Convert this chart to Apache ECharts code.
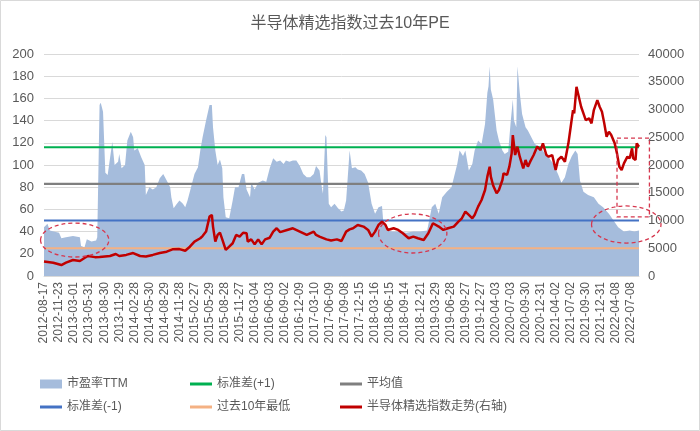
<!DOCTYPE html>
<html>
<head>
<meta charset="utf-8">
<script src="https://cdn.jsdelivr.net/npm/echarts@6/dist/echarts.min.js"></script>
<style>
html,body{margin:0;padding:0;background:#fff;}
#chart{width:700px;height:431px;}
</style>
</head>
<body>
<div id="chart"></div>
<script>
// ---- Data (weekly; x = week index from 2012-08-17) ----
const titleText = '半导体精选指数过去10年PE';
const labelDates = ['2012-08-17','2012-11-23','2013-03-01','2013-05-31','2013-08-30','2013-11-29','2014-02-28','2014-05-30','2014-08-29','2014-11-28','2015-02-27','2015-05-29','2015-08-28','2015-11-27','2016-03-04','2016-06-03','2016-09-02','2016-12-09','2017-03-10','2017-06-09','2017-09-08','2017-12-15','2018-03-16','2018-06-15','2018-09-14','2018-12-21','2019-03-29','2019-06-28','2019-09-27','2019-12-27','2020-04-03','2020-07-03','2020-09-30','2020-12-31','2021-04-02','2021-07-02','2021-09-30','2021-12-31','2022-04-08','2022-07-08'];
const weeksPerLabel = 13;
const weeksAfterLastLabel = 7;

// 市盈率TTM  [weekIndex, PE]
const peData = [[0,44],[3,47],[5,41],[13,39],[15,34],[19,35],[25,36],[31,35],[32,27],[35,26],[37,33],[41,31],[45,32],[46,35],[47,34],[48,154],[49,156],[51,148],[53,93],[55,91],[59,121],[61,100],[64,103],[65,110],[67,97],[70,100],[72,122],[75,130],[77,125],[78,113],[81,115],[84,107],[87,100],[88,73],[91,80],[94,78],[97,80],[100,88],[103,92],[106,86],[109,80],[110,71],[112,61],[114,64],[117,68],[120,65],[122,62],[124,68],[127,80],[130,92],[133,98],[135,113],[137,125],[140,140],[143,154],[145,154],[146,134],[148,113],[150,100],[152,105],[154,97],[155,71],[157,53],[160,52],[163,68],[165,80],[168,80],[171,92],[173,92],[175,78],[178,71],[179,84],[182,78],[185,84],[189,86],[192,85],[195,97],[198,106],[201,103],[204,104],[207,101],[209,104],[212,103],[215,104],[218,104],[221,99],[224,92],[227,89],[230,89],[233,92],[235,99],[238,95],[240,80],[241,74],[243,127],[244,125],[246,65],[248,62],[251,65],[254,61],[257,58],[259,59],[261,68],[264,113],[266,97],[269,98],[271,96],[274,95],[277,92],[280,84],[283,65],[286,56],[289,62],[292,63],[293,50],[296,41],[301,40],[307,40],[313,39],[319,40],[325,40],[331,41],[335,62],[338,65],[341,56],[344,71],[348,76],[352,80],[357,101],[359,113],[362,108],[364,113],[367,95],[370,101],[372,113],[375,122],[378,119],[381,137],[383,165],[384,171],[385,189],[386,168],[388,159],[391,131],[393,122],[396,113],[398,110],[401,112],[403,137],[405,159],[406,140],[408,134],[409,189],[411,165],[413,146],[416,134],[418,131],[421,125],[424,119],[429,116],[433,110],[436,107],[440,101],[444,92],[447,84],[450,89],[453,101],[456,108],[459,113],[461,110],[463,86],[466,76],[470,73],[475,71],[479,65],[483,62],[488,56],[492,50],[496,44],[501,40],[506,41],[510,40],[514,41]];

// 半导体精选指数走势(右轴)  [weekIndex, index level]
const idxData = [[0,2600],[8,2400],[15,1980],[19,2400],[25,2880],[31,2700],[35,3240],[38,3600],[44,3400],[48,3420],[57,3600],[62,3960],[65,3600],[71,3800],[77,4140],[83,3600],[88,3500],[94,3800],[100,4140],[106,4380],[111,4800],[117,4850],[122,4560],[126,5280],[130,6200],[135,6800],[137,7200],[140,8000],[143,10700],[145,11000],[146,8900],[148,6200],[150,7400],[152,7800],[154,6600],[157,4700],[160,5300],[163,5900],[166,7400],[169,7100],[172,7800],[175,7700],[176,6200],[179,6600],[182,5700],[185,6600],[188,5700],[191,6600],[195,6900],[198,8000],[201,8600],[204,7900],[210,8300],[215,8600],[221,8000],[227,7400],[233,8000],[235,7400],[238,7100],[244,6600],[248,6400],[253,6600],[257,6300],[261,8000],[264,8400],[267,8600],[271,9200],[276,8900],[280,8300],[283,7100],[286,8000],[289,9200],[292,9800],[295,9200],[297,8300],[302,8600],[306,8300],[310,7700],[315,6800],[319,7100],[323,6800],[328,6500],[332,7700],[336,9500],[341,8900],[345,8300],[349,8600],[354,8900],[358,9800],[361,10400],[364,11600],[367,11000],[370,10400],[372,11000],[375,12500],[378,13700],[381,15500],[383,17900],[385,19700],[386,17900],[388,16300],[391,14900],[393,15500],[396,17300],[397,18500],[400,18200],[402,19700],[404,22100],[405,25400],[407,21800],[409,23300],[411,21500],[414,19400],[416,20900],[418,19700],[420,20600],[423,21800],[426,23300],[429,22700],[431,23900],[434,21800],[436,21500],[439,21800],[442,19100],[444,20900],[447,21500],[450,20600],[453,23900],[455,26900],[457,29900],[458,29300],[460,34100],[462,32300],[464,30500],[466,29300],[468,28100],[471,28400],[473,27500],[475,29900],[478,31700],[480,30500],[482,29600],[484,27500],[486,25100],[488,26000],[490,25400],[493,23900],[495,22100],[497,19700],[499,19100],[501,20300],[504,21500],[506,21200],[508,23000],[509,21200],[511,20900],[512,23900],[514,23300]];

// reference levels (left axis)
const refNames  = ['标准差(+1)', '平均值', '标准差(-1)', '过去10年最低'];
const refValues = [116, 83, 50, 25];
const refColors = ['#00b050', '#7f7f7f', '#4472c4', '#f4b183'];

const peName = '市盈率TTM';
const idxName = '半导体精选指数走势(右轴)';
const leftTicks = {min: 0, max: 200, interval: 20};
const rightTicks = {min: 0, max: 40000, interval: 5000};

// ---- categories: every week from the label dates ----
function addDays(s, d) {
  const t = new Date(s + 'T00:00:00Z'); t.setUTCDate(t.getUTCDate() + d);
  return t.toISOString().slice(0, 10);
}
const categories = [];
labelDates.forEach((d, k) => {
  const n = k === labelDates.length - 1 ? weeksAfterLastLabel + 1 : weeksPerLabel;
  for (let j = 0; j < n; j++) categories.push(j === 0 ? d : addDays(d, 7 * j));
});
const lastIdx = categories.length - 1;

const FONT = '"Liberation Sans", Arial, "Noto Sans CJK SC", sans-serif';
const TXT = '#595959';
const chart = echarts.init(document.getElementById('chart'), null, {renderer: 'canvas'});

const series = [{
  name: peName, type: 'line', data: peData, yAxisIndex: 0,
  symbol: 'none', lineStyle: {width: 0}, areaStyle: {color: '#a5bcdc', opacity: 1},
  itemStyle: {color: '#a5bcdc'}, z: 1, silent: true
}];
refNames.forEach((n, i) => series.push({
  name: n, type: 'line', yAxisIndex: 0, symbol: 'none',
  data: [[0, refValues[i]], [lastIdx, refValues[i]]],
  lineStyle: {color: refColors[i], width: 2.2}, itemStyle: {color: refColors[i]}, z: 3
}));
series.push({
  name: idxName, type: 'line', data: idxData, yAxisIndex: 1,
  symbol: 'none', lineStyle: {color: '#c00000', width: 2.5}, itemStyle: {color: '#c00000'}, z: 5
});

const legendSpec = [
  [peName, 40, 378, 9], [refNames[0], 190, 378, 3], [refNames[1], 340, 378, 3],
  [refNames[2], 40, 401, 3], [refNames[3], 190, 401, 3], [idxName, 340, 401, 3]
];
const legends = legendSpec.map(s => ({
  data: [s[0]], left: s[1], top: s[2], icon: 'rect', itemWidth: 22, itemHeight: s[3],
  textStyle: {color: TXT, fontSize: 12, fontFamily: FONT}, selectedMode: false, padding: 0
}));

chart.setOption({
  animation: false,
  backgroundColor: '#fff',
  title: {text: titleText, left: 'center', top: 11,
    textStyle: {color: TXT, fontSize: 16, fontWeight: 'normal', fontFamily: FONT}},
  legend: legends,
  grid: {left: 44, right: 61, top: 54, bottom: 155, containLabel: false},
  xAxis: {
    type: 'category', data: categories, boundaryGap: false,
    axisLine: {lineStyle: {color: '#d9d9d9'}}, axisTick: {show: false},
    axisLabel: {interval: weeksPerLabel - 1, rotate: 90, color: TXT, fontSize: 12, fontFamily: FONT, margin: 6},
    splitLine: {show: false}
  },
  yAxis: [{
    type: 'value', min: leftTicks.min, max: leftTicks.max, interval: leftTicks.interval,
    axisLine: {show: false}, axisTick: {show: false},
    axisLabel: {color: TXT, fontSize: 13, fontFamily: FONT, margin: 10},
    splitLine: {lineStyle: {color: '#d9d9d9', width: 1}}
  }, {
    type: 'value', min: rightTicks.min, max: rightTicks.max, interval: rightTicks.interval,
    axisLine: {show: false}, axisTick: {show: false},
    axisLabel: {color: TXT, fontSize: 13, fontFamily: FONT, margin: 9, formatter: v => String(v)},
    splitLine: {show: false}
  }],
  series: series
});

// dashed annotations, defined as data-space boxes [x1, y1, x2, y2] on the left axis
const ellipses = [[-3, 47.7, 56, 17.1], [288.5, 55.9, 348, 20.7], [472.7, 63.1, 533.3, 29.7]];
const boxes = [[495.2, 124.3, 522.9, 53.2]];
const dash = {stroke: '#d6374e', lineWidth: 1.3, lineDash: [4, 3], fill: 'none'};
function px(x, y) { return chart.convertToPixel({xAxisIndex: 0, yAxisIndex: 0}, [x, y]); }
const graphics = [{type: 'rect', shape: {x: 0.5, y: 0.5, width: 699, height: 430}, style: {stroke: '#d9d9d9', fill: 'none', lineWidth: 1}, silent: true}];
ellipses.forEach(e => {
  const a = px(e[0], e[1]), b = px(e[2], e[3]);
  graphics.push({type: 'ellipse', shape: {cx: (a[0] + b[0]) / 2, cy: (a[1] + b[1]) / 2, rx: Math.abs(b[0] - a[0]) / 2, ry: Math.abs(b[1] - a[1]) / 2}, style: dash, z: 100, silent: true});
});
boxes.forEach(e => {
  const a = px(e[0], e[1]), b = px(e[2], e[3]);
  graphics.push({type: 'rect', shape: {x: a[0], y: a[1], width: b[0] - a[0], height: b[1] - a[1]}, style: dash, z: 100, silent: true});
});
chart.setOption({graphic: graphics});
</script>
</body>
</html>
